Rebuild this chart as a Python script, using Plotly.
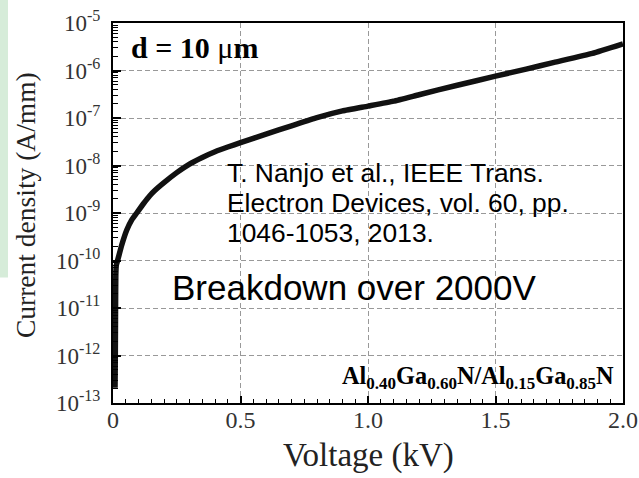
import plotly.graph_objects as go

# ---- data ----
voltage_kv = [0.008, 0.009, 0.010, 0.011, 0.013, 0.018, 0.034, 0.054, 0.073, 0.093,
              0.12, 0.145, 0.165, 0.2, 0.25, 0.3, 0.35, 0.4, 0.45, 0.5,
              0.6, 0.7, 0.8, 0.9, 1.0, 1.1, 1.2, 1.35, 1.5, 1.62,
              1.73, 1.88, 2.0]
current_a_per_mm = [2.1e-13, 1.0e-12, 1.0e-11, 5.0e-11, 8.0e-11, 1.0e-10, 2.1e-10, 4.4e-10, 7.1e-10, 1.0e-9,
                    1.585e-9, 2.34e-9, 3.02e-9, 4.37e-9, 7.08e-9, 1.07e-8, 1.48e-8, 1.95e-8, 2.45e-8, 3.02e-8,
                    4.57e-8, 6.84e-8, 1.02e-7, 1.41e-7, 1.78e-7, 2.26e-7, 3.09e-7, 4.9e-7, 7.59e-7, 1.07e-6,
                    1.48e-6, 2.29e-6, 3.63e-6]

y_tick_vals = [1e-13, 1e-12, 1e-11, 1e-10, 1e-9, 1e-8, 1e-7, 1e-6, 1e-5]
y_tick_text = ["10<sup>-13</sup>", "10<sup>-12</sup>", "10<sup>-11</sup>", "10<sup>-10</sup>",
               "10<sup>-9</sup>", "10<sup>-8</sup>", "10<sup>-7</sup>", "10<sup>-6</sup>", "10<sup>-5</sup>"]
x_tick_vals = [0, 0.5, 1.0, 1.5, 2.0]
x_tick_text = ["0", "0.5", "1.0", "1.5", "2.0"]

citation_lines = ["T. Nanjo et al., IEEE Trans.",
                  "Electron Devices, vol. 60, pp.",
                  "1046-1053, 2013."]

SERIF = "Liberation Serif, Times New Roman, serif"
SANS = "Liberation Sans, Arial, sans-serif"

fig = go.Figure()
fig.add_trace(go.Scatter(x=voltage_kv, y=current_a_per_mm, mode="lines",
                         line=dict(color="#111", width=5.5, shape="spline", smoothing=0.4),
                         showlegend=False, hoverinfo="skip"))

fig.update_layout(
    width=639, height=478,
    margin=dict(l=113, r=16, t=23, b=75, autoexpand=False),
    paper_bgcolor="white", plot_bgcolor="white",
    font=dict(family=SERIF, color="black", size=22),
)

GRID_DASH = "5px,3px"
fig.update_xaxes(
    range=[0, 2.0], tickmode="array", tickvals=x_tick_vals, ticktext=x_tick_text,
    ticks="inside", ticklen=7, tickwidth=1.5, tickcolor="black",
    minor=dict(ticks="inside", ticklen=4, tickwidth=1, tickcolor="black", dtick=0.05),
    showline=True, linecolor="black", linewidth=2, mirror=True,
    showgrid=True, gridcolor="#999999", griddash=GRID_DASH, gridwidth=1,
    zeroline=False, automargin=False, ticklabeloverflow="allow", ticklabelstandoff=-6,
    tickfont=dict(family=SERIF, size=24, color="#333"),
)
fig.update_yaxes(
    type="log", range=[-13, -5], tickmode="array", tickvals=y_tick_vals, ticktext=y_tick_text,
    ticks="inside", ticklen=8, tickwidth=1.5, tickcolor="black",
    minor=dict(ticks="inside", ticklen=5, tickwidth=1, tickcolor="black", dtick="D1"),
    showline=True, linecolor="black", linewidth=2, mirror=True,
    showgrid=True, gridcolor="#999999", griddash=GRID_DASH, gridwidth=1,
    zeroline=False, automargin=False, ticklabelstandoff=6, ticklabeloverflow="allow",
    tickfont=dict(family=SERIF, size=23, color="#333"),
)

# light green strip at the left edge of the slide
fig.add_shape(type="rect", xref="paper", yref="paper",
              x0=-0.2216, x1=-0.2059, y0=0.33, y1=1.0605,
              fillcolor="#d6ecd9", line=dict(width=0))

# axis titles
fig.add_annotation(xref="paper", yref="paper", x=-0.1725, y=0.521, xanchor="center", yanchor="middle",
                   text="Current density (A/mm)", textangle=-90, showarrow=False,
                   font=dict(family=SERIF, size=27.5, color="#222"))
fig.add_annotation(xref="paper", yref="paper", x=0.5, y=-0.139, xanchor="center", yanchor="middle",
                   text="Voltage (kV)", showarrow=False,
                   font=dict(family=SERIF, size=33, color="#222"))

# in-plot annotations
fig.add_annotation(xref="paper", yref="paper", x=0.032, y=0.936, xanchor="left", yanchor="middle",
                   text="<b>d = 10 </b>μ<b>m</b>", showarrow=False,
                   font=dict(family=SERIF, size=30, color="black"))
cit_y = [0.606, 0.527, 0.448]
for line, yy in zip(citation_lines, cit_y):
    fig.add_annotation(xref="paper", yref="paper", x=0.219, y=yy, xanchor="left", yanchor="middle",
                       text=line, showarrow=False, font=dict(family=SANS, size=26.4, color="black"))
fig.add_annotation(xref="paper", yref="paper", x=0.112, y=0.303, xanchor="left", yanchor="middle",
                   text="Breakdown over 2000V", showarrow=False,
                   font=dict(family=SANS, size=35, color="black"))
fig.add_annotation(xref="paper", yref="paper", x=0.986, y=0.068, xanchor="right", yanchor="middle",
                   text="<b>Al<sub>0.40</sub>Ga<sub>0.60</sub>N/Al<sub>0.15</sub>Ga<sub>0.85</sub>N</b>",
                   showarrow=False, font=dict(family=SERIF, size=24.3, color="black"))

fig.write_html("out.html", config={"displayModeBar": False},
               post_script="document.body.style.margin='0px';")
